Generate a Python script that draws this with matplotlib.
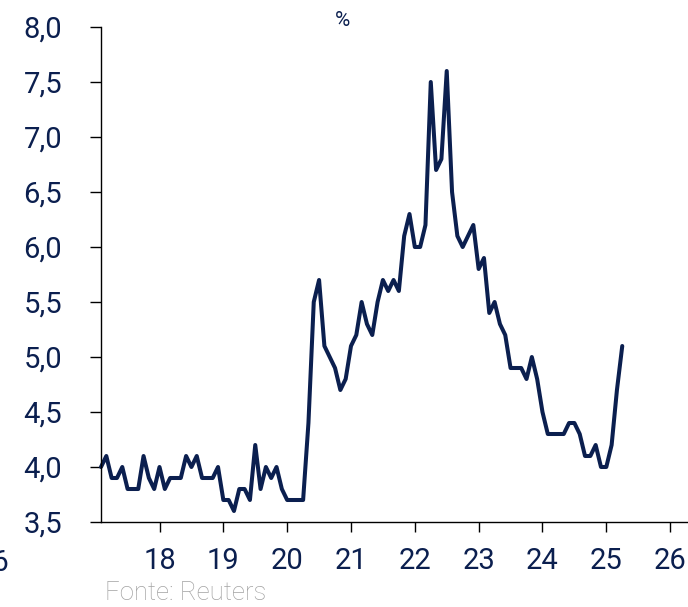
import numpy as np
import pandas as pd
import matplotlib
matplotlib.use("Agg")
import matplotlib.pyplot as plt
from matplotlib.ticker import FuncFormatter, FixedLocator

# ---- data (monthly, starting Feb 2017) ----
start_month = "2017-02"
values = [4.0, 4.1, 3.9, 3.9, 4.0, 3.8, 3.8, 3.8, 4.1, 3.9, 3.8, 4.0,
          3.8, 3.9, 3.9, 3.9, 4.1, 4.0, 4.1, 3.9, 3.9, 3.9, 4.0, 3.7,
          3.7, 3.6, 3.8, 3.8, 3.7, 4.2, 3.8, 4.0, 3.9, 4.0, 3.8, 3.7,
          3.7, 3.7, 3.7, 4.4, 5.5, 5.7, 5.1, 5.0, 4.9, 4.7, 4.8, 5.1,
          5.2, 5.5, 5.3, 5.2, 5.5, 5.7, 5.6, 5.7, 5.6, 6.1, 6.3, 6.0,
          6.0, 6.2, 7.5, 6.7, 6.8, 7.6, 6.5, 6.1, 6.0, 6.1, 6.2, 5.8,
          5.9, 5.4, 5.5, 5.3, 5.2, 4.9, 4.9, 4.9, 4.8, 5.0, 4.8, 4.5,
          4.3, 4.3, 4.3, 4.3, 4.4, 4.4, 4.3, 4.1, 4.1, 4.2, 4.0, 4.0,
          4.2, 4.7, 5.1]
x_ticks = [18, 19, 20, 21, 22, 23, 24, 25, 26]
y_ticks = [3.5, 4.0, 4.5, 5.0, 5.5, 6.0, 6.5, 7.0, 7.5, 8.0]
unit_label = "%"
source_label = "Fonte: Reuters"

NAVY = "#0b1f4f"
GREY = "#a3a3a3"

dates = pd.date_range(start_month, periods=len(values), freq="MS")
x = (dates.year - 2000) + (dates.month - 1) / 12.0

plt.rcParams["font.family"] = ["Roboto", "DejaVu Sans"]

fig = plt.figure(figsize=(6.88, 6.07), dpi=100)
ax = fig.add_axes([101 / 688, 1 - 522 / 607, 1 - 101 / 688, (522 - 27) / 607])

ax.plot(x, values, color=NAVY, lw=2.9, solid_joinstyle="round",
        solid_capstyle="round", clip_on=False)

ax.set_xlim(x[0], 26.28)
ax.set_ylim(3.5, 8.0)
ax.xaxis.set_major_locator(FixedLocator(x_ticks))
ax.yaxis.set_major_locator(FixedLocator(y_ticks))
ax.yaxis.set_major_formatter(FuncFormatter(lambda v, p: f"{v:.1f}".replace(".", ",")))
ax.xaxis.set_major_formatter(FuncFormatter(lambda v, p: f"{int(v)}"))

for s in ["top", "right"]:
    ax.spines[s].set_visible(False)
for s in ["left", "bottom"]:
    ax.spines[s].set_color("black")
    ax.spines[s].set_linewidth(1.0)

ax.tick_params(axis="y", direction="out", length=8, width=1.0, color="black",
               labelcolor=NAVY, labelsize=21, pad=20)
ax.tick_params(axis="x", direction="out", length=7, width=1.0, color="black",
               labelcolor=NAVY, labelsize=21, pad=11)

fig.text(342 / 688, 1 - 20 / 607, unit_label, color=NAVY, fontsize=15,
         ha="center", va="center")
fig.text(105 / 688, 1 - 593 / 607, source_label, color=GREY, fontsize=18.5,
         ha="left", va="center", fontweight="light")
fig.text(9 / 688, 1 - 563 / 607, "16", color=NAVY, fontsize=21,
         ha="right", va="center")

fig.savefig("out.png", dpi=100)
